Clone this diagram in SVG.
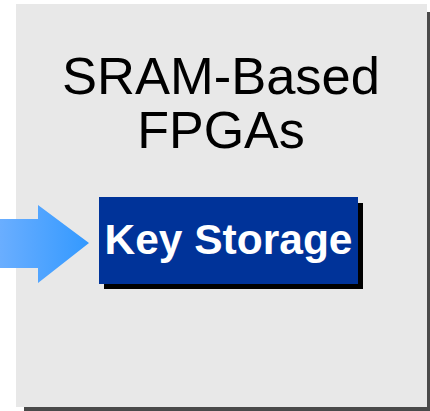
<svg xmlns="http://www.w3.org/2000/svg" width="430" height="411" viewBox="0 0 430 411">
<defs>
<linearGradient id="ag" x1="0" y1="0" x2="1" y2="0">
<stop offset="0" stop-color="#6aaeff"/>
<stop offset="1" stop-color="#3399ff"/>
</linearGradient>
<style>
.t{font-family:"Liberation Sans",Arial,sans-serif;text-anchor:middle}
</style>
</defs>
<g id="fpga">
<rect x="24" y="12" width="406" height="399" fill="#4a4a4a"/>
<rect x="16" y="4" width="411" height="403" fill="#e8e8e8"/>
<text class="t" x="221" y="94" font-size="52.5" fill="#000">SRAM-Based</text>
<text class="t" x="221" y="148" font-size="52" fill="#000">FPGAs</text>
</g>
<g id="connectors">
<polygon points="0,219 38,219 38,205 89,243 38,283 38,268 0,268" fill="url(#ag)"/>
</g>
<g id="key">
<rect x="104" y="203" width="259" height="86" fill="#000"/>
<rect x="99" y="197" width="259" height="87" fill="#003399"/>
<text class="t" x="228.5" y="254" font-size="42.5" font-weight="bold" fill="#fff">Key Storage</text>
</g>
</svg>
